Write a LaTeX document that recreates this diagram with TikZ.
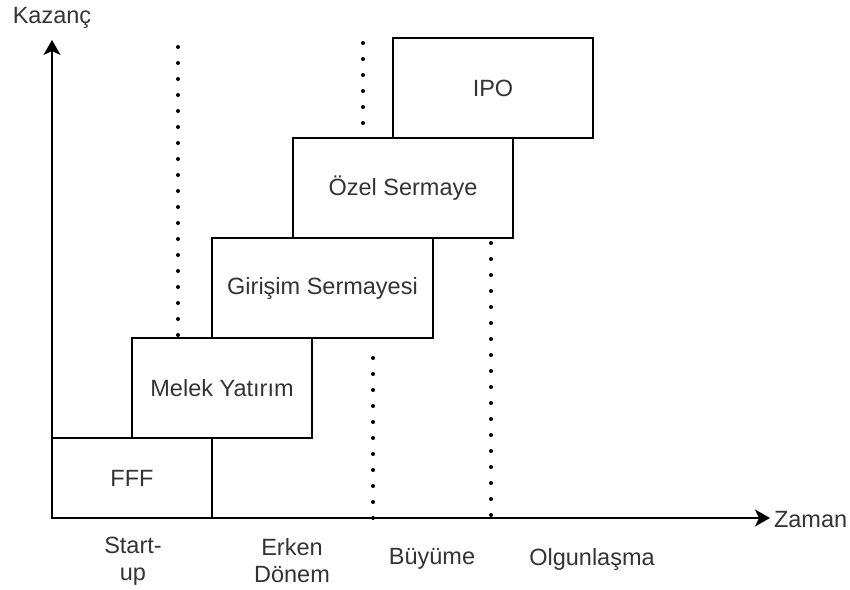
\documentclass[tikz,border=0pt]{standalone}
\usepackage{fontspec}
\setmainfont{Liberation Sans}
\usetikzlibrary{positioning, arrows.meta}
\definecolor{txtgray}{HTML}{333333}

\begin{document}
\begin{tikzpicture}[x=1pt, y=-1pt, line width=2pt,
		font=\fontsize{23.5}{27}\selectfont, text=txtgray,
		stage/.style = {draw=black, rectangle, anchor=south west, inner sep=0pt, outer sep=0pt},
		phase/.style = {align=center, inner sep=0pt},
		divider/.style = {line width=4pt, line cap=round, dash pattern=on 0pt off 16pt},
		axis/.style = {-{Stealth[length=15pt 0, width=17pt 0, inset=4pt]}}]
		\useasboundingbox (0,0) rectangle (850,589);
		\coordinate (O) at (52,518);
		\coordinate (ytop) at (52,40);
		\coordinate (xend) at (770,518);
		
		% investment stages
		\node[stage, minimum width=160pt, minimum height=80pt] (fff) at (52,518) {FFF};
		\node[stage, minimum width=180pt, minimum height=100pt] (melek) at (fff.north) {Melek Yat\i r\i m};
		\node[stage, minimum width=221pt, minimum height=100pt] (girisim) at (212,338) {Giri\c{s}im Sermayesi};
		\node[stage, minimum width=220pt, minimum height=100pt] (ozel) at (293,238) {\"Ozel Sermaye};
		\node[stage, minimum width=200pt, minimum height=100pt] (ipo) at (393,138) {IPO};
		
		% axes
		\draw[axis] (O) -- (ytop);
		\draw[axis] (O) -- (xend);
		\node[inner sep=0pt] (kazanc) at (52,18) {Kazan\c{c}};
		\node[inner sep=0pt, anchor=west] (zaman) at (773,520) {Zaman};
		
		% phase borders
		\draw[divider] (178,47) -- (178,338);
		\draw[divider] (363,43) -- (363,138);
		\draw[divider] (373,358) -- (373,518);
		\draw[divider] (491,243) -- (491,518);
		
		% phases
		\node[phase] (startup) at (133,561) {Start-\\up};
		\node[phase] (erken) at (292,561) {Erken\\D\"onem};
		\node[phase] (buyume) at (432,559) {B\"uy\"ume};
		\node[phase] (olgun) at (592,559) {Olgunla\c{s}ma};
	\end{tikzpicture}
\end{document}
